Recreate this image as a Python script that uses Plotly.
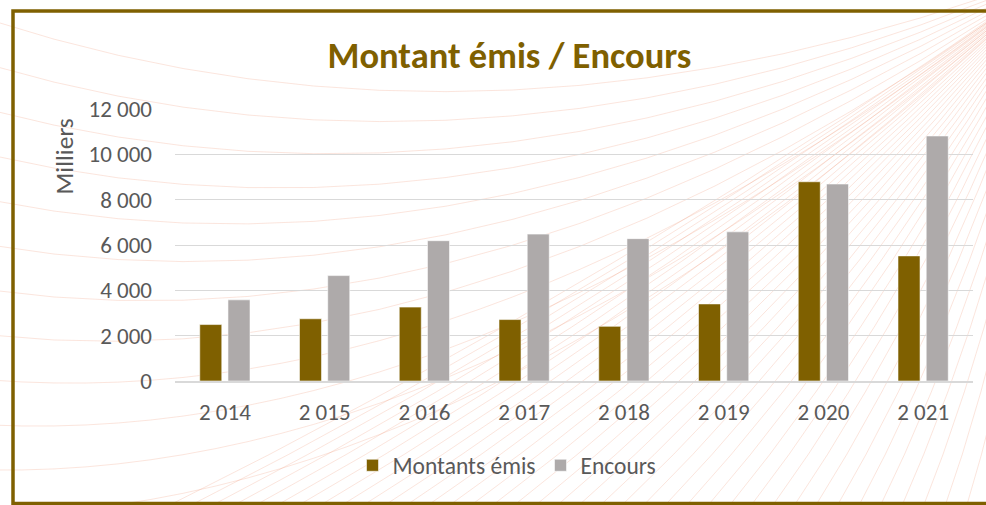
import plotly.graph_objects as go

# ---- data ----
categories = ["2 014", "2 015", "2 016", "2 017", "2 018", "2 019", "2 020", "2 021"]
montants_emis = [2490, 2745, 3260, 2710, 2410, 3400, 8790, 5520]
encours = [3580, 4650, 6190, 6480, 6280, 6580, 8690, 10810]
y_tick_vals = [0, 2000, 4000, 6000, 8000, 10000, 12000]
y_tick_text = ["0", "2 000", "4 000", "6 000", "8 000", "10 000", "12 000"]

W, H = 986, 505
L, R, T, B = 175, 13, 109, 124
PW, PH = W - L - R, H - T - B

FONT = "Carlito, Calibri, Lato, sans-serif"
GOLD = "#7F6000"
GREY = "#AEAAAA"
TXT = "#595959"


def px(x, y):
    return (x - L) / PW, (H - B - y) / PH


fig = go.Figure()
fig.add_trace(go.Bar(name="Montants émis", x=categories, y=montants_emis,
                     marker=dict(color=GOLD, line=dict(color="rgba(255,255,255,0.7)", width=0.8))))
fig.add_trace(go.Bar(name="Encours", x=categories, y=encours,
                     marker=dict(color=GREY, line=dict(color="rgba(255,255,255,0.7)", width=0.8))))

# decorative background: faint fan of curves converging beyond the top right corner
shapes = []
conv = (1060, -30)
deco = "rgba(240,150,120,0.25)"


def curve(s, c, e):
    a, b, d = px(*s), px(*c), px(*e)
    return dict(type="path", xref="paper", yref="paper", layer="below",
                path=f"M {a[0]:.4f},{a[1]:.4f} Q {b[0]:.4f},{b[1]:.4f} {d[0]:.4f},{d[1]:.4f}",
                line=dict(color=deco, width=1))


for k in range(12):
    sy = 20 + 45 * k
    shapes.append(curve((-10, sy), (500, 185 + 0.65 * (sy - 20)), conv))
for k in range(40):
    sx = 150 + 22 * k
    s = (sx, 515)
    c = ((sx + conv[0]) / 2 + 25, (515 + conv[1]) / 2 + 35)
    shapes.append(curve(s, c, conv))

# frame
f0 = px(13, 11)
f1 = px(1000, 503.5)
shapes.append(dict(type="rect", xref="paper", yref="paper", layer="above",
                   x0=f0[0], y0=f1[1], x1=f1[0], y1=f0[1],
                   line=dict(color=GOLD, width=3.5), fillcolor="rgba(0,0,0,0)"))

ytitle = px(63.5, 157)
legpos = px(507, 465.5)

fig.update_layout(
    width=W, height=H, autosize=False,
    margin=dict(l=L, r=R, t=T, b=B, pad=0),
    paper_bgcolor="white", plot_bgcolor="rgba(0,0,0,0)",
    barmode="group", bargap=0.434, bargroupgap=0.22,
    font=dict(family=FONT, color=TXT, size=23),
    title=dict(text="<b>Montant émis / Encours</b>", x=509.5 / W, xanchor="center",
               y=1 - 55 / H, yanchor="middle", xref="container", yref="container",
               font=dict(family=FONT, size=36.5, color=GOLD)),
    showlegend=True,
    legend=dict(orientation="h", x=legpos[0], y=legpos[1], xanchor="center", yanchor="middle",
                font=dict(family=FONT, size=23.5, color=TXT), bgcolor="rgba(0,0,0,0)",
                itemwidth=30, traceorder="normal"),
    xaxis=dict(showgrid=False, showline=True, linecolor="#D9D9D9", linewidth=1.5,
               ticks="", ticklabelstandoff=10, tickfont=dict(size=23, color=TXT)),
    yaxis=dict(range=[0, 12000], tickvals=y_tick_vals, ticktext=y_tick_text,
               showgrid=True, gridcolor="#D9D9D9", gridwidth=1.3, zeroline=False,
               showline=False, ticks="", ticklabelstandoff=22,
               tickfont=dict(size=23, color=TXT)),
    shapes=shapes,
    annotations=[dict(text="Milliers", xref="paper", yref="paper", x=ytitle[0], y=ytitle[1],
                      xanchor="center", yanchor="middle", textangle=-90, showarrow=False,
                      font=dict(family=FONT, size=25.5, color=TXT))],
)

fig.write_html("out.html", config={"displayModeBar": False},
               post_script="document.body.style.margin='0px';")
